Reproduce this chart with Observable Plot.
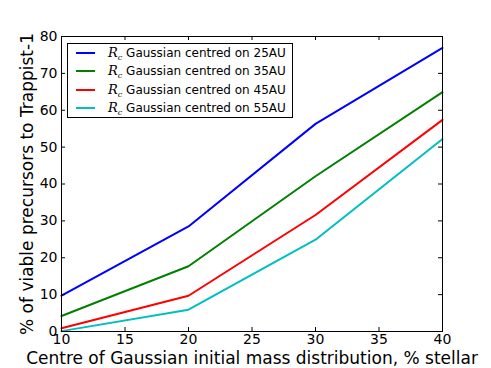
<!DOCTYPE html>
<html>
<head>
<meta charset="utf-8">
<script src="https://cdn.jsdelivr.net/npm/d3@7"></script>
<script src="https://cdn.jsdelivr.net/npm/@observablehq/plot@0.6"></script>
<style>
  html, body { margin: 0; padding: 0; background: #fff; }
  #wrap { position: relative; width: 491px; height: 368px; font-family: "DejaVu Sans", sans-serif; }
  #legend { position: absolute; left: 67px; top: 43px; width: 224px; height: 73px; border: 1px solid #000; background: #fff; font-size: 12px; }
  .row { position: absolute; left: 0; height: 18px; }
  .sw { position: absolute; left: 8px; width: 19px; height: 2px; }
  .lab { position: absolute; left: 40px; white-space: nowrap; line-height: 18px; }
  .R { font-family: "DejaVu Serif", serif; font-style: italic; font-size: 13px; }
  .sub { font-family: "DejaVu Serif", serif; font-style: italic; font-size: 8px; position: relative; top: 3px; }
</style>
</head>
<body>
<div id="wrap"></div>
<script>
const xValues = [10, 20, 30, 40];
const seriesNames = ["25AU", "35AU", "45AU", "55AU"];
const seriesColors = ["#0000ff", "#008000", "#ff0000", "#00bfbf"];
const values25 = [9.7, 28.5, 56.3, 76.9];
const values35 = [4.2, 17.7, 42.1, 64.9];
const values45 = [0.9, 9.7, 31.6, 57.4];
const values55 = [0.1, 5.9, 24.9, 52.2];
const xTicks = [10, 15, 20, 25, 30, 35, 40];
const yTicks = [0, 10, 20, 30, 40, 50, 60, 70, 80];
const xLabel = "Centre of Gaussian initial mass distribution, % stellar";
const yLabel = "% of viable precursors to Trappist-1";

const allValues = [values25, values35, values45, values55];
const data = [];
allValues.forEach((vals, i) => vals.forEach((v, j) => data.push({x: xValues[j], y: v, s: seriesNames[i]})));

const W = 491, H = 368;
const mL = 61, mR = 49, mT = 36, mB = 37;
const ph = H - mT - mB, pw = W - mL - mR;
const tk = 4;

const chart = Plot.plot({
  width: W, height: H,
  marginLeft: mL, marginRight: mR, marginTop: mT, marginBottom: mB,
  style: {fontFamily: "DejaVu Sans, sans-serif", fontSize: "14px", color: "#000", background: "#fff", overflow: "visible"},
  x: {domain: [10, 40]},
  y: {domain: [0, 80]},
  color: {domain: seriesNames, range: seriesColors},
  marks: [
    Plot.line(data, {x: "x", y: "y", z: "s", stroke: "s", strokeWidth: 2}),
    Plot.ruleX(xTicks, {x: d => d, insetTop: ph - tk, stroke: "#000"}),
    Plot.ruleX(xTicks, {x: d => d, insetBottom: ph - tk, stroke: "#000"}),
    Plot.ruleY(yTicks, {y: d => d, insetRight: pw - tk, stroke: "#000"}),
    Plot.ruleY(yTicks, {y: d => d, insetLeft: pw - tk, stroke: "#000"}),
    Plot.frame({stroke: "#000", strokeWidth: 1}),
    Plot.axisX(xTicks, {tickSize: 0, tickPadding: 3, fontSize: 14, label: null}),
    Plot.axisY(yTicks, {tickSize: 0, tickPadding: 4, fontSize: 14, label: null}),
    Plot.text([xLabel], {text: d => d, frameAnchor: "bottom", textAnchor: "middle", lineAnchor: "middle", dy: 27, fontSize: 17, fill: "#000"}),
    Plot.text([yLabel], {text: d => d, frameAnchor: "left", textAnchor: "middle", lineAnchor: "middle", dx: -34, rotate: -90, fontSize: 17, fill: "#000"})
  ]
});
document.getElementById("wrap").appendChild(chart);

const legend = document.createElement("div");
legend.id = "legend";
seriesNames.forEach((n, i) => {
  const row = document.createElement("div");
  row.className = "row";
  row.style.top = (i * 18.3) + "px";
  row.style.width = "100%";
  const sw = document.createElement("div");
  sw.className = "sw";
  sw.style.background = seriesColors[i];
  sw.style.top = "8px";
  const lab = document.createElement("div");
  lab.className = "lab";
  lab.innerHTML = `<span class="R">R</span><span class="sub">c</span> Gaussian centred on ${n}`;
  row.appendChild(sw);
  row.appendChild(lab);
  legend.appendChild(row);
});
document.getElementById("wrap").appendChild(legend);
</script>
</body>
</html>
